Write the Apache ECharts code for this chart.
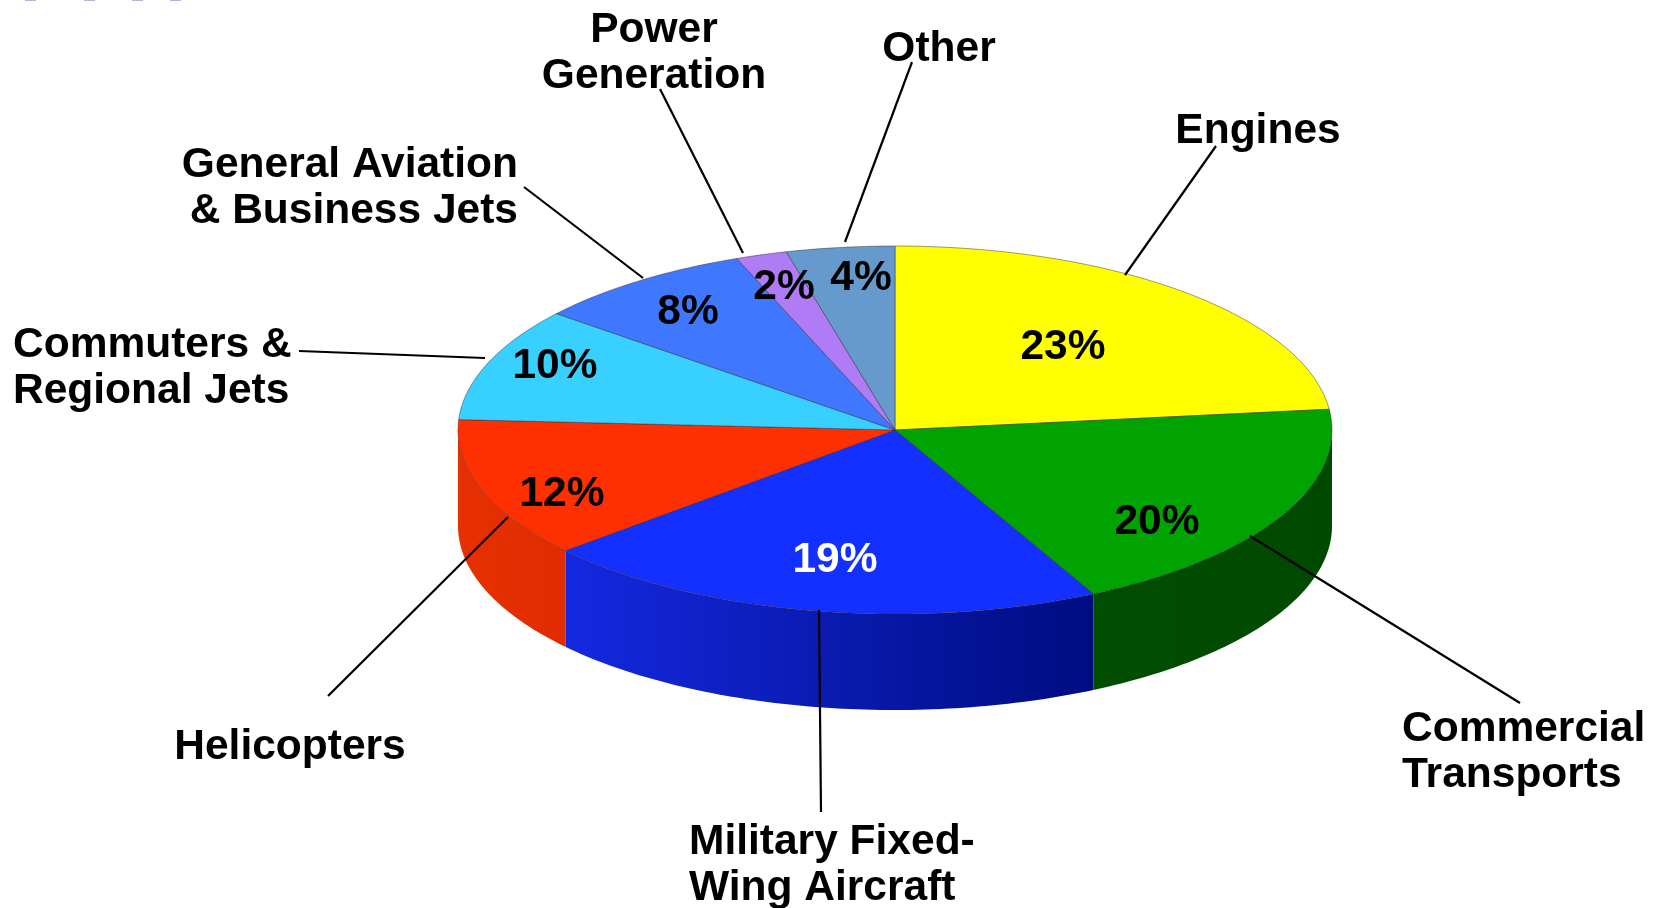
<!DOCTYPE html>
<html>
<head>
<meta charset="utf-8">
<title>Market segments</title>
<script src="https://cdn.jsdelivr.net/npm/echarts@6/dist/echarts.min.js"></script>
<style>
html, body { margin: 0; padding: 0; background: #fff; }
#chart { width: 1657px; height: 908px; }
</style>
</head>
<body>
<div id="chart"></div>
<script>
// slices clockwise from 12 o'clock
const segments = ['Engines', 'Commercial Transports', 'Military Fixed-Wing Aircraft', 'Helicopters',
    'Commuters & Regional Jets', 'General Aviation & Business Jets', 'Power Generation', 'Other'];
// the percents printed on the slices
const shareLabels = ['23%', '20%', '19%', '12%', '10%', '8%', '2%', '4%'];
// slice sizes as measured on the picture, they do not follow the printed percents exactly
const drawnShares = [23.2, 19.3, 21.1, 12.3, 10.0, 8.2, 1.9, 4.0];

const topColors = ['#ffff00', '#00a300', '#1430ff', '#ff3000', '#38d0ff', '#3f78ff', '#b07cf5', '#6699cc'];
const sideColors = [
    ['#cccc00', '#cccc00'],
    ['#004d00', '#004a00'],
    ['#1429e0', '#000c80'],
    ['#e63000', '#e02c00'],
    ['#2aa0c8', '#2aa0c8'],
    ['#3060c8', '#3060c8'],
    ['#8860c0', '#8860c0'],
    ['#5078a0', '#5078a0']
];
const shareColors = ['#000', '#000', '#fff', '#000', '#000', '#000', '#000', '#000'];

const pie = { cx: 895, cy: 430, rx: 437, ry: 184, depth: 96 };
const sharePos = [[1063, 347], [1157, 522], [835, 560], [562, 494], [555, 366], [688, 312], [784, 287], [861, 278]];

const font = 'bold 42.5px "Liberation Sans", Arial, sans-serif';
const nameLabels = [
    { text: 'Engines', x: 1258, y: 131, align: 'center' },
    { text: 'Commercial\nTransports', x: 1402, y: 752, align: 'left' },
    { text: 'Military Fixed-\nWing Aircraft', x: 689, y: 865, align: 'left' },
    { text: 'Helicopters', x: 290, y: 747, align: 'center' },
    { text: 'Commuters &\nRegional Jets', x: 13, y: 368, align: 'left' },
    { text: 'General Aviation\n& Business Jets', x: 518, y: 188, align: 'right' },
    { text: 'Power\nGeneration', x: 654, y: 53, align: 'center' },
    { text: 'Other', x: 939, y: 49, align: 'center' }
];
const leaders = [
    [1216, 146, 1125, 275],
    [1250, 536, 1520, 703],
    [819, 610, 821, 812],
    [508, 517, 328, 696],
    [299, 351, 485, 358],
    [524, 187, 643, 278],
    [660, 89, 743, 253],
    [912, 62, 845, 242]
];
// bottoms of a clipped line of text at the top edge of the source
const clippedBits = [25, 84, 132, 170];

const total = drawnShares.reduce((a, b) => a + b, 0);
const starts = [];
drawnShares.reduce((sum, v, i) => { starts[i] = sum; return sum + v; }, 0);

function rimPoint(deg, dy) {
    const a = deg * Math.PI / 180;
    return [pie.cx + pie.rx * Math.sin(a), pie.cy - pie.ry * Math.cos(a) + (dy || 0)];
}

function arcPoints(from, to, dy) {
    const pts = [];
    const steps = Math.max(2, Math.ceil(Math.abs(to - from)));
    for (let i = 0; i <= steps; i++) {
        pts.push(rimPoint(from + (to - from) * i / steps, dy));
    }
    return pts;
}

function renderSlice(params, api) {
    const i = params.dataIndex;
    const from = starts[i] / total * 360;
    const to = from + api.value(0) / total * 360;
    const children = [];

    // only the front half of the rim shows a wall
    const wallFrom = Math.max(from, 90);
    const wallTo = Math.min(to, 270);
    if (wallTo > wallFrom) {
        const wall = arcPoints(wallFrom, wallTo, 0).concat(arcPoints(wallTo, wallFrom, pie.depth));
        children.push({
            type: 'polygon',
            z2: 1,
            shape: { points: wall },
            style: {
                fill: new echarts.graphic.LinearGradient(0, 0, 1, 0, [
                    { offset: 0, color: sideColors[i][0] },
                    { offset: 1, color: sideColors[i][1] }
                ])
            }
        });
    }

    children.push({
        type: 'polygon',
        z2: 2,
        shape: { points: [[pie.cx, pie.cy]].concat(arcPoints(from, to, 0)) },
        style: { fill: topColors[i], stroke: 'rgba(50,30,50,0.45)', lineWidth: 1 }
    });
    children.push({
        type: 'text',
        z2: 3,
        style: {
            text: shareLabels[i],
            x: sharePos[i][0],
            y: sharePos[i][1],
            font: font,
            fill: shareColors[i],
            textAlign: 'center',
            textVerticalAlign: 'middle'
        }
    });
    return { type: 'group', children: children };
}

const graphicElements = [];
leaders.forEach(l => {
    graphicElements.push({
        type: 'line',
        z: 20,
        shape: { x1: l[0], y1: l[1], x2: l[2], y2: l[3] },
        style: { stroke: '#000', lineWidth: 2.2 }
    });
});
nameLabels.forEach(n => {
    graphicElements.push({
        type: 'text',
        z: 20,
        x: n.x,
        y: n.y,
        style: {
            text: n.text,
            font: font,
            lineHeight: 46,
            fill: '#000',
            textAlign: n.align,
            textVerticalAlign: 'middle'
        }
    });
});
clippedBits.forEach(x => {
    graphicElements.push({
        type: 'rect',
        z: 20,
        shape: { x: x, y: 0, width: 11, height: 1 },
        style: { fill: '#b4b4de' }
    });
});

const chart = echarts.init(document.getElementById('chart'), null, { renderer: 'canvas' });
chart.setOption({
    animation: false,
    backgroundColor: '#fff',
    series: [{
        type: 'custom',
        coordinateSystem: 'none',
        z: 2,
        renderItem: renderSlice,
        data: drawnShares.map((v, i) => ({ name: segments[i], value: [v] }))
    }],
    graphic: { elements: graphicElements }
});
</script>
</body>
</html>
